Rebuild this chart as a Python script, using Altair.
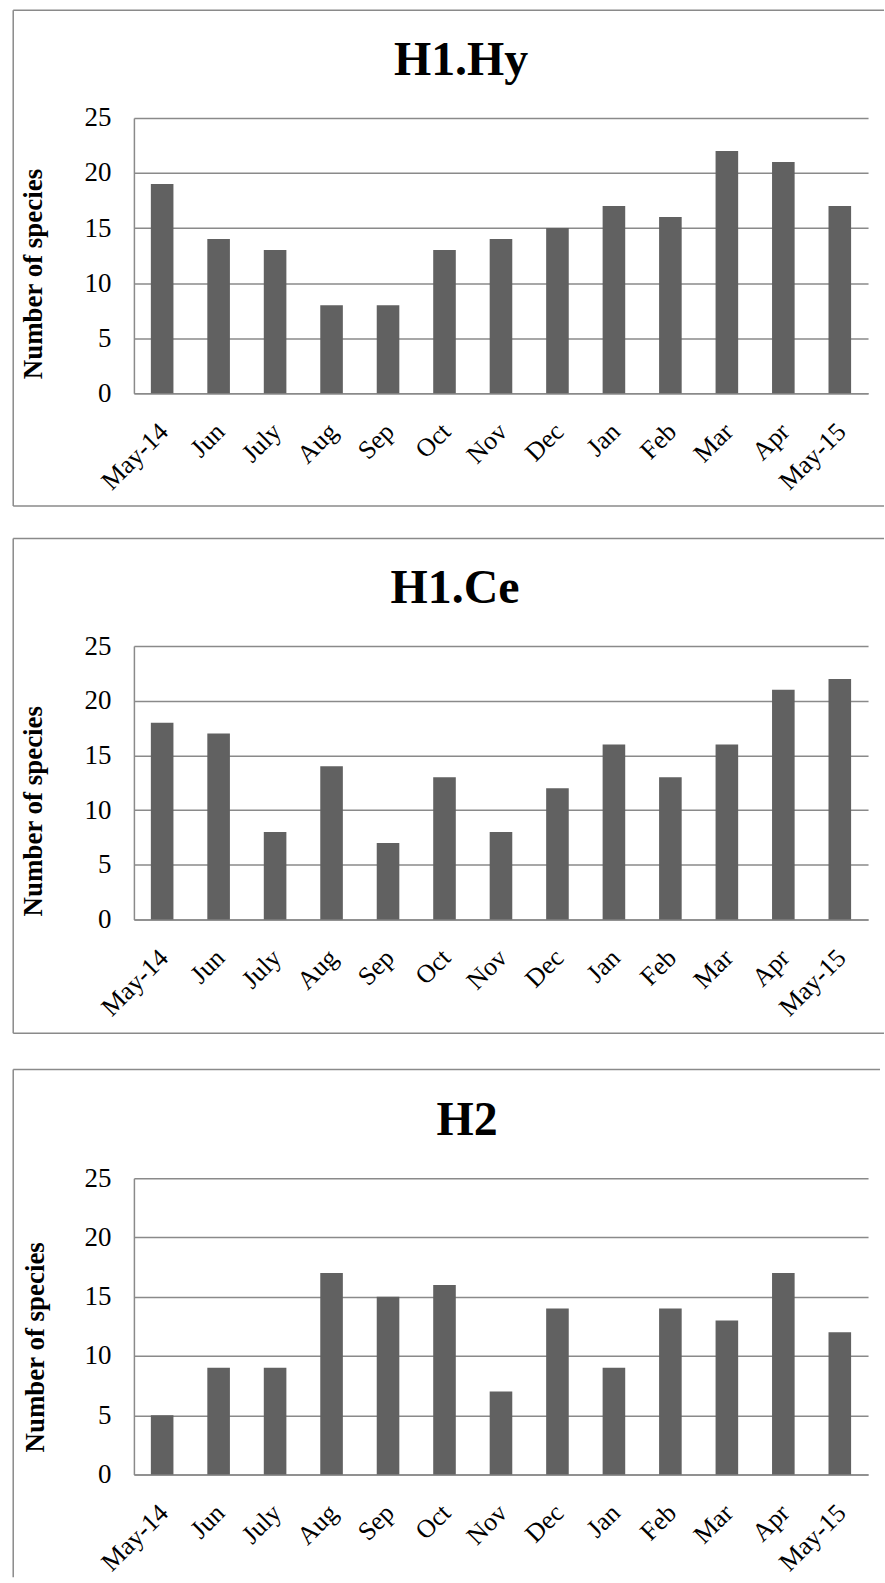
import altair as alt
import pandas as pd

# Monthly species counts at the three sampling habitats
months = ["May-14", "Jun", "July", "Aug", "Sep", "Oct", "Nov",
          "Dec", "Jan", "Feb", "Mar", "Apr", "May-15"]
h1_hy = [19, 14, 13, 8, 8, 13, 14, 15, 17, 16, 22, 21, 17]
h1_ce = [18, 17, 8, 14, 7, 13, 8, 12, 16, 13, 16, 21, 22]
h2 = [5, 9, 9, 17, 15, 16, 7, 14, 9, 14, 13, 17, 12]
y_ticks = [0, 5, 10, 15, 20, 25]

SERIF = "Liberation Serif"
GRAY = "#8a8a8a"
BAR = "#616161"
PLOT_W = 736
one_row = alt.Data(values=[{}])


def hline(x1, x2, y, opacity=1):
    return alt.Chart(one_row).mark_rule(color=GRAY, strokeWidth=1.5, opacity=opacity).encode(
        x=alt.value(x1), x2=alt.value(x2), y=alt.value(y))


def vline(x, y1, y2, opacity=1):
    return alt.Chart(one_row).mark_rule(color=GRAY, strokeWidth=1.5, opacity=opacity).encode(
        x=alt.value(x), y=alt.value(y1), y2=alt.value(y2))


def panel(name, values, height, title_x, ytitle_x, ytitle_y,
          box_top, box_bottom, box_right, label_pad=34, shift=None):
    df = pd.DataFrame({"month": months, "species": values})
    bars = alt.Chart(df).mark_bar(color=BAR).encode(
        x=alt.X("month:N", sort=months,
                scale=alt.Scale(paddingInner=0.6, paddingOuter=0.3),
                axis=alt.Axis(title=None, labelAngle=-45, labelAlign="right",
                              labelBaseline="middle", labelPadding=label_pad,
                              labelOffset=2,
                              labelFont=SERIF, labelFontSize=26,
                              labelColor="black", ticks=False, tickSize=0,
                              domainColor=GRAY, domainWidth=1.5,
                              labelOverlap=False)),
        y=alt.Y("species:Q", scale=alt.Scale(domain=[0, 25], nice=False),
                axis=alt.Axis(values=y_ticks, title="Number of species",
                              titleFont=SERIF, titleFontSize=27,
                              titleFontWeight="bold", titleColor="black",
                              titleAngle=270, titleAlign="center",
                              titleBaseline="middle",
                              titleX=ytitle_x, titleY=ytitle_y,
                              labelFont=SERIF, labelFontSize=27,
                              labelColor="black", labelPadding=23,
                              ticks=False, tickSize=0,
                              grid=True, gridColor=GRAY, gridWidth=1.5,
                              domainColor=GRAY, domainWidth=1.5)),
    )
    heading = alt.Chart(one_row).mark_text(
        text=name, font=SERIF, fontSize=48, fontWeight="bold",
        align="center", baseline="alphabetic", color="black",
    ).encode(x=alt.value(title_x), y=alt.value(-43))

    layers = [bars, heading,
              hline(-121, box_right, box_top),
              vline(-121, box_top, box_bottom)]
    if box_bottom < 390:
        layers.append(hline(-121, box_right, box_bottom))
    if shift is not None:
        dx, dy = shift
        layers.append(vline(-121 - dx, box_top - dy, box_top, opacity=0))
    return alt.layer(*layers).properties(width=PLOT_W, height=height)


p1 = panel("H1.Hy", h1_hy, 276, 328, -101, 156, -108, 389, 752)
p2 = panel("H1.Ce", h1_ce, 274, 322, -101, 165, -108, 388, 752)
p3 = panel("H2", h2, 297, 334, -99, 169, -109, 400, 748, shift=(4, 5))

chart = alt.concat(p1, p2, p3, columns=1, spacing=30.5, align="none",
                   bounds="full").properties(
    padding={"left": 9.25, "top": 7.25, "right": 0, "bottom": 0},
    background="white",
).configure_view(stroke=None)

chart.save("out.html", embed_options={"renderer": "svg", "actions": False})
